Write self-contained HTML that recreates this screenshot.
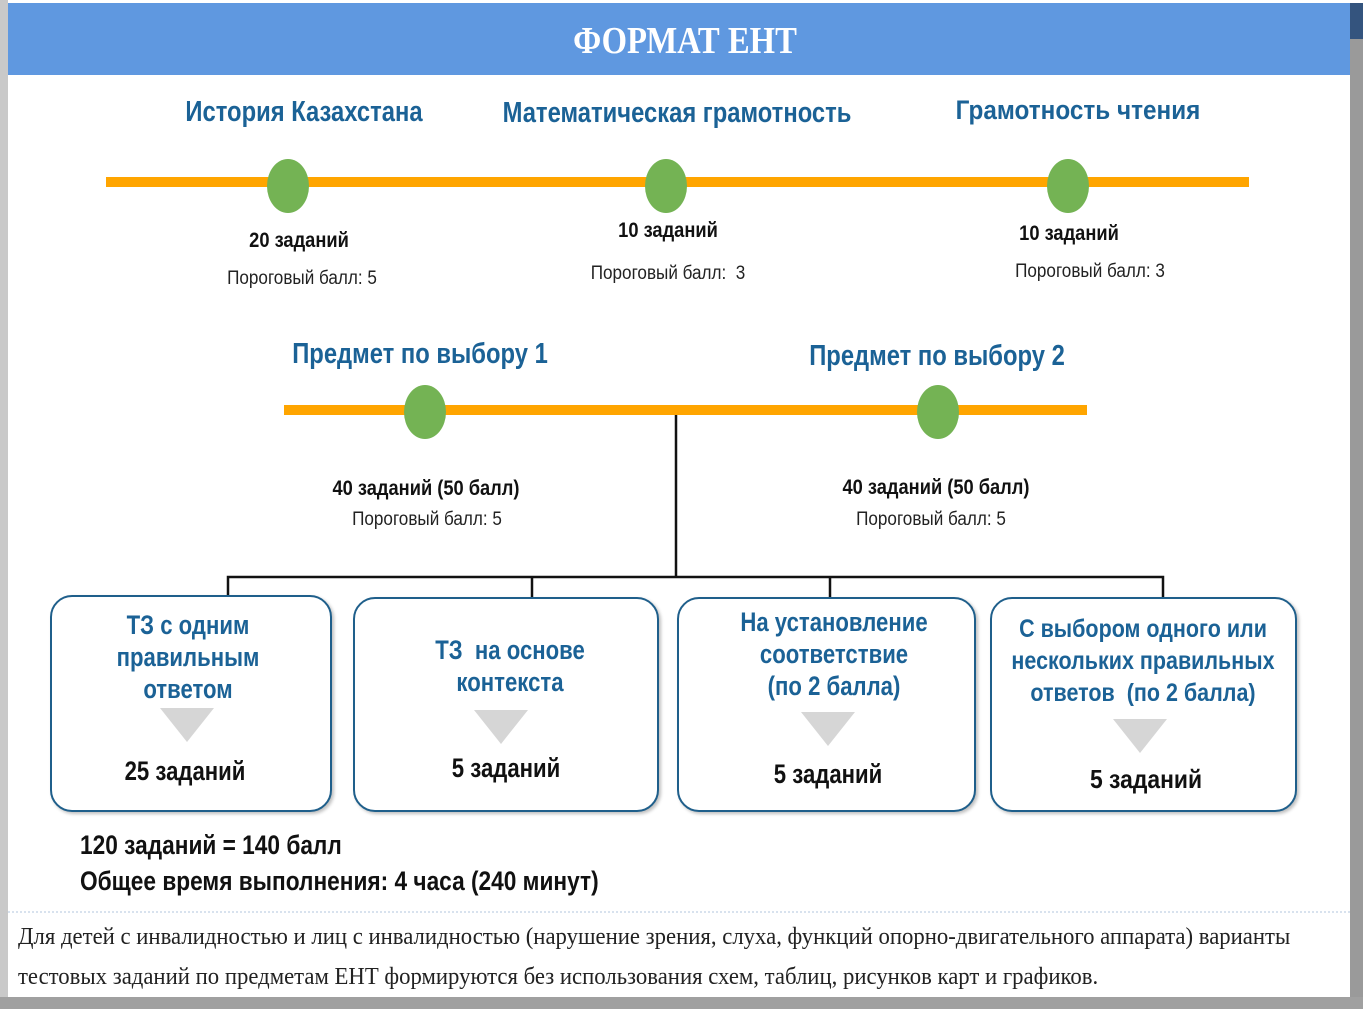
<!DOCTYPE html>
<html><head><meta charset="utf-8"><style>
*{margin:0;padding:0;box-sizing:border-box}
body{width:1363px;height:1009px;position:relative;background:#fff;overflow:hidden;font-family:"Liberation Sans","DejaVu Sans",sans-serif}
.t{position:absolute;white-space:nowrap;line-height:1.15;transform:translateX(-50%) scaleX(var(--s,0.82));text-align:center}
.b{color:#1b6296;font-weight:bold}
.k{color:#111;font-weight:bold;--s:0.87}
.n{color:#222;--s:0.9}
.box{position:absolute;border:2.5px solid #1f5f8b;border-radius:22px;background:#fff;box-shadow:2px 2px 3px rgba(0,0,0,.25)}
.tri{position:absolute;width:0;height:0;border-left:27px solid transparent;border-right:27px solid transparent;border-top:34px solid #d6d6d6}
</style></head><body>
<div style="position:absolute;left:0;top:0;width:8px;height:1009px;background:#c9c9c9"></div>
<div style="position:absolute;left:8px;top:3px;width:1343px;height:72px;background:#5f98e0"></div>
<div style="position:absolute;left:1350px;top:3px;width:13px;height:1006px;background:#9a9a9a"></div>
<div style="position:absolute;left:1350px;top:3px;width:13px;height:36px;background:#34547e"></div>
<div style="position:absolute;left:0;top:997px;width:1363px;height:12px;background:#a0a0a0"></div>
<div class="t" style="left:685px;top:20px;font-family:'Liberation Serif',serif;font-weight:bold;font-size:38px;color:#fff;--s:0.86">ФОРМАТ ЕНТ</div>

<svg style="position:absolute;left:0;top:0" width="1363" height="1009">
<rect x="106" y="177" width="1143" height="10" fill="#ffa500"/>
<ellipse cx="288" cy="186" rx="21" ry="27" fill="#74b354"/>
<ellipse cx="666" cy="186" rx="21" ry="27" fill="#74b354"/>
<ellipse cx="1068" cy="186" rx="21" ry="27" fill="#74b354"/>
<rect x="284" y="405" width="803" height="10" fill="#ffa500"/>
<ellipse cx="425" cy="412" rx="21" ry="27" fill="#74b354"/>
<ellipse cx="938" cy="412" rx="21" ry="27" fill="#74b354"/>
<g stroke="#111" stroke-width="2.5" fill="none">
<line x1="676" y1="415" x2="676" y2="577"/>
<polyline points="228,597 228,577 1163,577 1163,597"/>
<line x1="532" y1="577" x2="532" y2="597"/>
<line x1="830" y1="577" x2="830" y2="597"/>
</g>
<line x1="8" y1="912" x2="1350" y2="912" stroke="#b0c4de" stroke-width="1" stroke-dasharray="2,2"/>
</svg>

<div class="t b" style="left:304px;top:96px;font-size:29px">История Казахстана</div>
<div class="t b" style="left:677px;top:97px;font-size:29px">Математическая грамотность</div>
<div class="t b" style="left:1078px;top:95px;font-size:27px;--s:0.9">Грамотность чтения</div>
<div class="t k" style="left:299px;top:229px;font-size:21px">20 заданий</div>
<div class="t n" style="left:302px;top:268px;font-size:19px">Пороговый балл: 5</div>
<div class="t k" style="left:668px;top:219px;font-size:21px">10 заданий</div>
<div class="t n" style="left:668px;top:263px;font-size:19px">Пороговый балл:&nbsp; 3</div>
<div class="t k" style="left:1069px;top:222px;font-size:21px">10 заданий</div>
<div class="t n" style="left:1090px;top:261px;font-size:19px">Пороговый балл: 3</div>

<div class="t b" style="left:420px;top:338px;font-size:29px">Предмет по выбору 1</div>
<div class="t b" style="left:937px;top:340px;font-size:29px">Предмет по выбору 2</div>
<div class="t k" style="left:426px;top:477px;font-size:21px">40 заданий (50 балл)</div>
<div class="t n" style="left:427px;top:509px;font-size:19px">Пороговый балл: 5</div>
<div class="t k" style="left:936px;top:476px;font-size:21px">40 заданий (50 балл)</div>
<div class="t n" style="left:931px;top:509px;font-size:19px">Пороговый балл: 5</div>

<div class="box" style="left:50px;top:595px;width:282px;height:217px"></div>
<div class="box" style="left:353px;top:597px;width:306px;height:215px"></div>
<div class="box" style="left:677px;top:597px;width:299px;height:215px"></div>
<div class="box" style="left:990px;top:597px;width:307px;height:215px"></div>

<div class="t b" style="left:188px;top:609px;font-size:27px;line-height:32px">ТЗ с одним<br>правильным<br>ответом</div>
<div class="tri" style="left:160px;top:708px"></div>
<div class="t k" style="left:185px;top:756px;font-size:27px;--s:0.82">25 заданий</div>

<div class="t b" style="left:510px;top:634px;font-size:27px;line-height:32px">ТЗ&nbsp; на основе<br>контекста</div>
<div class="tri" style="left:474px;top:710px"></div>
<div class="t k" style="left:506px;top:753px;font-size:27px;--s:0.82">5 заданий</div>

<div class="t b" style="left:834px;top:606px;font-size:27px;line-height:32px">На установление<br>соответствие<br>(по 2 балла)</div>
<div class="tri" style="left:801px;top:712px"></div>
<div class="t k" style="left:828px;top:759px;font-size:27px;--s:0.82">5 заданий</div>

<div class="t b" style="left:1143px;top:613px;font-size:25px;line-height:32px;--s:0.86">С выбором одного или<br>нескольких правильных<br>ответов&nbsp; (по 2 балла)</div>
<div class="tri" style="left:1113px;top:719px"></div>
<div class="t k" style="left:1146px;top:765px;font-size:26px;--s:0.88">5 заданий</div>

<div class="t k" style="left:80px;top:830px;font-size:27px;transform:scaleX(0.84);transform-origin:left">120 заданий = 140 балл</div>
<div class="t k" style="left:80px;top:866px;font-size:27px;transform:scaleX(0.84);transform-origin:left">Общее время выполнения: 4 часа (240 минут)</div>

<div class="t" style="left:18px;top:924px;font-family:'Liberation Serif',serif;font-size:24px;color:#222;transform:scaleX(0.947);transform-origin:left">Для детей с инвалидностью и лиц с инвалидностью (нарушение зрения, слуха, функций опорно-двигательного аппарата) варианты</div>
<div class="t" style="left:18px;top:964px;font-family:'Liberation Serif',serif;font-size:24px;color:#222;transform:scaleX(0.947);transform-origin:left">тестовых заданий по предметам ЕНТ формируются без использования схем, таблиц, рисунков карт и графиков.</div>
</body></html>
